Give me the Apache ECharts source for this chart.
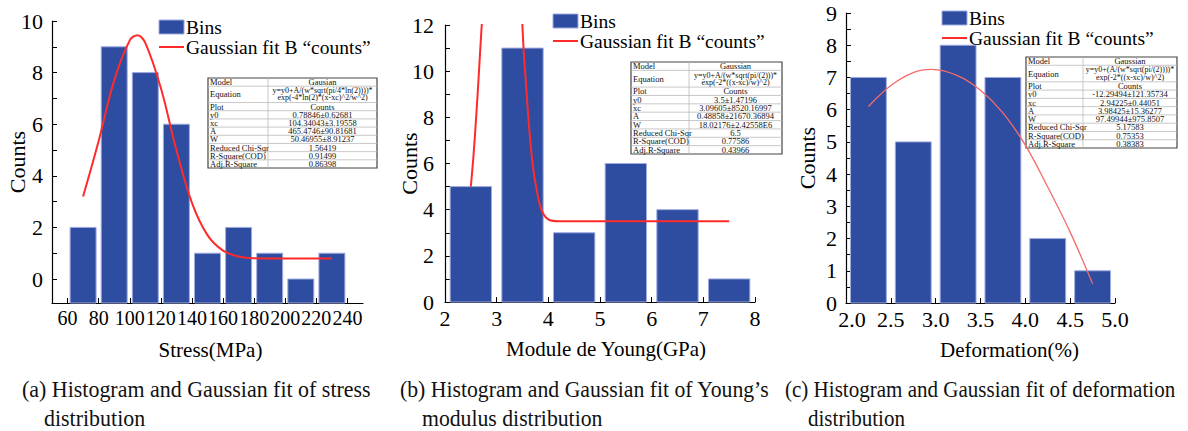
<!DOCTYPE html>
<html>
<head>
<meta charset="utf-8">
<script src="https://cdn.jsdelivr.net/npm/echarts@6/dist/echarts.min.js"></script>
<style>
  html, body { margin: 0; padding: 0; background: #fff; }
  #main { width: 1188px; height: 431px; }
</style>
</head>
<body>
<div id="main"></div>
<script>
// (a) stress
var stressBins = [70, 90, 110, 130, 150, 170, 190, 210, 230];
var stressCounts = [2, 9, 8, 6, 1, 2, 1, 0, 1];
var stressFitX = [70, 80, 90, 100, 105, 110, 120, 130, 140, 150, 160, 170, 180, 200, 230];
var stressFitY = [3.2, 5.35, 7.7, 9.25, 9.45, 9.15, 7.4, 5.0, 2.95, 1.7, 1.1, 0.87, 0.8, 0.79, 0.79];
var stressTicks = [60, 80, 100, 120, 140, 160, 180, 200, 220, 240];
var stressTable = ['Gausian', 'y=y0+A/(w*sqrt(pi/4*ln(2))))*', 'exp(-4*ln(2)*(x-xc)^2/w^2)', 'Counts',
  '0.78846±0.62681', '104.34043±3.19558', '465.4746±90.81681', '50.46955±8.91237',
  '1.56419', '0.91499', '0.86398'];

// (b) young's modulus
var youngBins = [2.5, 3.5, 4.5, 5.5, 6.5, 7.5];
var youngCounts = [5, 11, 3, 6, 4, 1];
var youngFitX = [2.5, 2.55, 2.6, 2.65, 2.7, 2.73, 3.1, 3.485, 3.52, 3.55, 3.6, 3.65, 3.7, 3.77, 3.85, 3.92, 4.02, 4.2, 7.5];
var youngFitY = [5.0, 6.3, 7.9, 9.7, 11.6, 12.6, null, 12.6, 11.0, 10.0, 8.4, 7.0, 5.9, 4.9, 4.1, 3.75, 3.55, 3.5, 3.5];
var youngTable = ['Gaussian', 'y=y0+A/(w*sqrt(pi/(2)))*', 'exp(-2*((x-xc)/w)^2)', 'Counts',
  '3.5±1.47196', '3.09605±8520.16997', '0.48858±21670.36894', '18.02176±2.42558E6',
  '6.5', '0.77586', '0.43966'];

// (c) deformation
var deformBins = [2.25, 2.75, 3.25, 3.75, 4.25, 4.75];
var deformCounts = [7, 5, 8, 7, 2, 1];
var deformFitX = [2.25, 2.5, 2.75, 2.95, 3.25, 3.5, 3.75, 4.0, 4.25, 4.5, 4.75];
var deformFitY = [6.1, 6.75, 7.15, 7.25, 7.05, 6.6, 5.9, 4.9, 3.6, 2.2, 0.6];
var deformTable = ['Gaussian', 'y=y0+(A/(w*sqrt(pi/(2))))*', 'exp(-2*((x-xc)/w)^2)', 'Counts',
  '-12.29494±121.35734', '2.94225±0.44051', '3.98425±15.36277', '97.49944±975.8507',
  '5.17583', '0.75353', '0.38383'];

var rowNames = ['Model', 'Equation', 'Plot', 'y0', 'xc', 'A', 'W', 'Reduced Chi-Sqr', 'R-Square(COD)', 'Adj.R-Square'];

var FIT = 'Gaussian fit B \u201ccounts\u201d';
var SERIF = 'Liberation Serif';
var BAR = '#2e4ca0';
var EDGE = '#9fabe0';

function steps(a, b, s) {
    var out = [];
    for (var v = a; v <= b + 1e-9; v += s) out.push(+v.toFixed(4));
    return out;
}
function zip(xs, ys) {
    return xs.map(function (x, i) { return [x, ys[i]]; });
}

function barSeries(idx, bins, counts, binW, yMin) {
    return {
        type: 'custom', name: 'Bins', xAxisIndex: idx, yAxisIndex: idx,
        data: zip(bins, counts),
        itemStyle: {color: BAR},
        z: 2,
        renderItem: function (params, api) {
            var x = api.value(0), y = api.value(1);
            var p0 = api.coord([x - binW / 2, y]);
            var p1 = api.coord([x + binW / 2, yMin]);
            return {
                type: 'rect',
                shape: {x: p0[0], y: p0[1], width: p1[0] - p0[0], height: p1[1] - p0[1]},
                style: {fill: BAR, stroke: EDGE, lineWidth: 1}
            };
        }
    };
}

function fitSeries(idx, xs, ys, color, width) {
    return {
        type: 'line', name: FIT, xAxisIndex: idx, yAxisIndex: idx,
        data: zip(xs, ys), smooth: 0.35, symbol: 'none', clip: true,
        lineStyle: {color: color, width: width},
        itemStyle: {color: color},
        z: 3
    };
}

var axisLine = {show: true, onZero: false, lineStyle: {color: '#000', width: 1.2}};
var labelStyle = {color: '#000', fontFamily: SERIF, fontSize: 22, hideOverlap: false, showMinLabel: true, showMaxLabel: true};

function xAxis(idx, min, max, labelOpt, ticks, name, nameShift) {
    return {
        type: 'value', gridIndex: idx, min: min, max: max,
        axisLine: axisLine,
        axisTick: {show: true, inside: true, length: 5, customValues: ticks, lineStyle: {color: '#000'}},
        axisLabel: Object.assign({margin: 5}, labelStyle, labelOpt),
        splitLine: {show: false},
        name: name, nameLocation: 'middle', nameGap: 36, nameMoveOverlap: false,
        nameTextStyle: {color: '#000', fontFamily: SERIF, fontSize: 21, padding: [0, 0, 0, nameShift]}
    };
}
function yAxis(idx, min, max, labelOpt, ticks, margin, gap) {
    return {
        type: 'value', gridIndex: idx, min: min, max: max,
        axisLine: axisLine,
        axisTick: {show: true, inside: true, length: 5, customValues: ticks, lineStyle: {color: '#000'}},
        axisLabel: Object.assign({margin: margin}, labelStyle, labelOpt),
        splitLine: {show: false},
        name: 'Counts', nameLocation: 'middle', nameGap: gap, nameMoveOverlap: false,
        nameTextStyle: {color: '#000', fontFamily: SERIF, fontSize: 22}
    };
}

function legend(left, top) {
    return {
        left: left, top: top, orient: 'vertical',
        itemWidth: 25, itemHeight: 14, itemGap: 0, padding: 0,
        textStyle: {color: '#000', fontFamily: SERIF, fontSize: 19.5, lineHeight: 17, padding: [0, 0, 0, -3]},
        data: [
            {name: 'Bins', icon: 'rect', itemStyle: {borderColor: EDGE, borderWidth: 1}},
            {name: FIT, itemStyle: {color: 'rgba(0,0,0,0)', borderWidth: 0, opacity: 0}}
        ]
    };
}

function table(x, y, w, h, split, vals) {
    var slot = h / 11;
    var kids = [];
    kids.push({type: 'rect', shape: {x: x, y: y, width: w, height: h},
        style: {fill: '#fff', stroke: '#444', lineWidth: 1.2}});
    kids.push({type: 'line', shape: {x1: split, y1: y, x2: split, y2: y + h},
        style: {stroke: '#bbb', lineWidth: 0.8}});
    var cy = y;
    rowNames.forEach(function (r, i) {
        var rows = i === 1 ? 2 : 1;
        if (i > 0) kids.push({type: 'line', shape: {x1: x, y1: cy, x2: x + w, y2: cy},
            style: {stroke: '#bbb', lineWidth: 0.8}});
        var mid = cy + rows * slot / 2;
        kids.push({type: 'text', x: x + 2, y: mid,
            style: {text: r, fontFamily: SERIF, fontSize: 8.5, fill: '#111', verticalAlign: 'middle'}});
        var cx = (split + x + w) / 2;
        if (i === 0) {
            kids.push({type: 'text', x: cx, y: mid, style: {text: vals[0], fontFamily: SERIF, fontSize: 8.5, fill: '#111', align: 'center', verticalAlign: 'middle'}});
        } else if (i === 1) {
            kids.push({type: 'text', x: cx, y: cy + slot / 2 + 0.5, style: {text: vals[1], fontFamily: SERIF, fontSize: 8, fill: '#111', align: 'center', verticalAlign: 'middle'}});
            kids.push({type: 'text', x: cx, y: cy + slot * 1.5 - 0.5, style: {text: vals[2], fontFamily: SERIF, fontSize: 8, fill: '#111', align: 'center', verticalAlign: 'middle'}});
        } else {
            kids.push({type: 'text', x: cx, y: mid, style: {text: vals[i + 1], fontFamily: SERIF, fontSize: 8.5, fill: '#111', align: 'center', verticalAlign: 'middle'}});
        }
        cy += rows * slot;
    });
    return {type: 'group', z: 10, children: kids};
}

function caption(x, y, text, sx) {
    return {type: 'text', x: x, y: y, scaleX: sx,
        style: {text: text, fontFamily: SERIF, fontSize: 23, fill: '#111', verticalAlign: 'middle'}};
}

var chart = echarts.init(document.getElementById('main'), null, {renderer: 'svg'});
// first label of (c) sits a little right of its tick, as in the original
var fmtDeform = function (v) { return v === 2 ? '{f|2.0}' : v.toFixed(1); };
var deformRich = {f: {padding: [0, 0, 0, 12], fontFamily: SERIF, fontSize: 22, color: '#000'}};

var option = {
    backgroundColor: '#fff',
    animation: false,
    textStyle: {fontFamily: SERIF, color: '#000'},
    grid: [
        {left: 52, top: 21, width: 311, height: 282, outerBoundsMode: 'none'},
        {left: 445, top: 25, width: 310, height: 277, outerBoundsMode: 'none'},
        {left: 846, top: 13, width: 269, height: 290, outerBoundsMode: 'none'}
    ],
    legend: [legend(158, 17), legend(552, 11), legend(941, 8)],
    xAxis: [
        xAxis(0, 50, 250, {customValues: stressTicks, fontSize: 20}, steps(60, 240, 10), 'Stress(MPa)', 6),
        xAxis(1, 2, 8, {}, steps(2, 8, 0.5), 'Module de Young(GPa)', 12),
        xAxis(2, 2, 5, {formatter: fmtDeform, rich: deformRich}, steps(2, 5, 0.25), 'Deformation(%)', 58)
    ],
    yAxis: [
        yAxis(0, -0.93, 10, {customValues: [0, 2, 4, 6, 8, 10]}, steps(0, 10, 1), 9, 24),
        yAxis(1, 0, 12, {}, steps(0, 12, 1), 11, 25),
        yAxis(2, 0, 9, {}, steps(0, 9, 0.5), 9, 28)
    ],
    series: [
        barSeries(0, stressBins, stressCounts, 16.7, -0.93),
        fitSeries(0, stressFitX, stressFitY, '#ff2b2b', 2),
        barSeries(1, youngBins, youngCounts, 0.8, 0),
        fitSeries(1, youngFitX, youngFitY, '#ff2b2b', 2),
        barSeries(2, deformBins, deformCounts, 0.4, 0),
        fitSeries(2, deformFitX, deformFitY, '#f46a6a', 1.3)
    ],
    graphic: [
        table(208, 78, 169, 90, 268, stressTable),
        table(631, 62, 151, 92, 689, youngTable),
        table(1026, 57, 151, 91, 1083, deformTable),
        caption(22, 389, '(a) Histogram and Gaussian fit of stress', 0.955),
        caption(44, 418, 'distribution', 0.955),
        caption(400, 389, '(b) Histogram and Gaussian fit of Young\u2019s', 0.945),
        caption(422, 418, 'modulus distribution', 0.945),
        caption(785, 389, '(c) Histogram and Gaussian fit of deformation', 0.915),
        caption(808, 418, 'distribution', 0.915)
    ]
};
option.yAxis[1].interval = 2;
option.yAxis[2].interval = 1;
option.xAxis[2].interval = 0.5;
option.xAxis[1].interval = 1;

chart.setOption(option);
</script>
</body>
</html>
